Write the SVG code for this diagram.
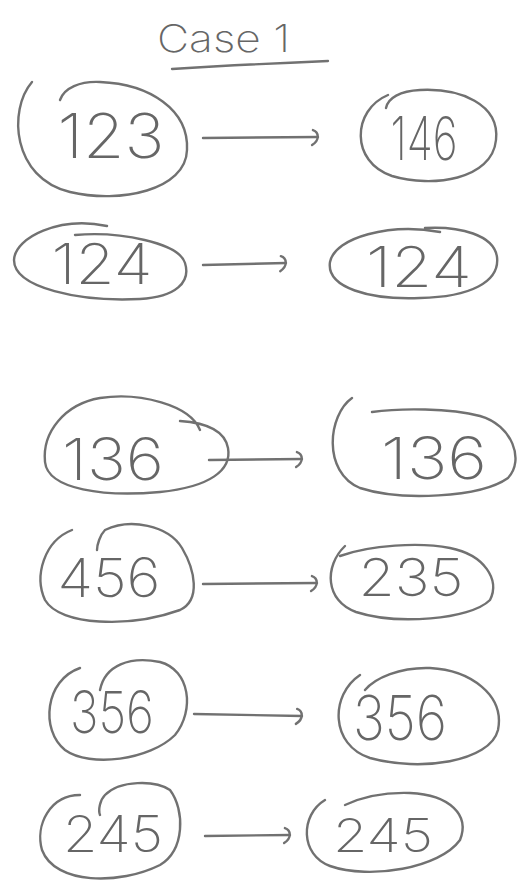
<svg xmlns="http://www.w3.org/2000/svg" width="520" height="894" viewBox="0 0 520 894">
<style>
.s{fill:none;stroke:#717171;stroke-width:2.4;stroke-linecap:round;stroke-linejoin:round}
.t{font-family:"Inter","Lato","Liberation Sans",sans-serif;font-weight:200;fill:#666666}
</style>
<defs>
<marker id="h" viewBox="-10 -10 14 20" markerWidth="14" markerHeight="20" refX="0" refY="0" orient="auto" markerUnits="userSpaceOnUse">
<path d="M-5,-7 C1,-5 2,3 -6,8" class="s"/>
</marker>
</defs>
<rect width="520" height="894" fill="#ffffff"/>
<g id="title">
<text class="t" x="157" y="52" font-size="38" textLength="133" lengthAdjust="spacingAndGlyphs">Case 1</text>
<path class="s" d="M172,69 C220,66 280,63 328,61"/>
</g>
<g id="connectors">
<path class="s" d="M203,138 L318,137" marker-end="url(#h)"/>
<path class="s" d="M203,265 L286,263" marker-end="url(#h)"/>
<path class="s" d="M209,460 L302,459" marker-end="url(#h)"/>
<path class="s" d="M203,584 L317,583" marker-end="url(#h)"/>
<path class="s" d="M194,714 L302,716" marker-end="url(#h)"/>
<path class="s" d="M205,836 L290,835" marker-end="url(#h)"/>
</g>
<g id="n123">
<path class="s" d="M32,82 C8,110 12,178 70,192 C120,204 186,190 187,150 C189,110 150,84 100,82 C80,81 64,88 60,100"/>
<text class="t" x="111" y="158" font-size="62" text-anchor="middle" textLength="107" lengthAdjust="spacingAndGlyphs">123</text>
</g>
<g id="n146">
<path class="s" d="M388,95 C352,110 350,162 392,176 C432,188 492,180 496,140 C500,104 460,88 420,90 C400,91 388,98 386,108"/>
<text class="t" x="424" y="160" font-size="60" text-anchor="middle" textLength="67" lengthAdjust="spacingAndGlyphs">146</text>
</g>
<g id="n124a">
<path class="s" d="M107,226 C60,216 15,237 14,260 C14,288 80,302 140,299 C176,297 191,282 185,263 C179,243 120,231 75,235"/>
<text class="t" x="102" y="284" font-size="56" text-anchor="middle" textLength="101" lengthAdjust="spacingAndGlyphs">124</text>
</g>
<g id="n124b">
<path class="s" d="M440,232 C390,223 335,237 330,262 C326,288 370,300 420,298 C470,297 500,282 497,257 C494,235 460,226 425,228"/>
<text class="t" x="419" y="287" font-size="56" text-anchor="middle" textLength="106" lengthAdjust="spacingAndGlyphs">124</text>
</g>
<g id="n136a">
<path class="s" d="M200,430 C190,405 140,392 100,398 C65,404 42,432 45,462 C48,490 105,497 160,492 C210,487 232,470 228,448 C225,432 210,423 180,421"/>
<text class="t" x="113" y="480" font-size="58" text-anchor="middle" textLength="102" lengthAdjust="spacingAndGlyphs">136</text>
</g>
<g id="n136b">
<path class="s" d="M352,398 C328,415 322,472 360,488 C400,501 480,498 508,478 C525,460 512,425 480,416 C450,408 400,408 372,412"/>
<text class="t" x="434" y="479" font-size="58" text-anchor="middle" textLength="106" lengthAdjust="spacingAndGlyphs">136</text>
</g>
<g id="n456">
<path class="s" d="M72,530 C44,541 34,576 45,600 C60,626 130,628 180,610 C201,600 195,570 182,548 C168,525 130,518 105,530 C100,535 97,545 97,550"/>
<text class="t" x="109" y="597" font-size="54" text-anchor="middle" textLength="103" lengthAdjust="spacingAndGlyphs">456</text>
</g>
<g id="n235">
<path class="s" d="M345,546 C324,566 325,601 356,612 C396,625 470,620 490,600 C500,580 485,555 450,548 C420,542 370,545 340,556"/>
<text class="t" x="411" y="596" font-size="52" text-anchor="middle" textLength="105" lengthAdjust="spacingAndGlyphs">235</text>
</g>
<g id="n356a">
<path class="s" d="M80,668 C45,680 40,730 65,750 C90,768 150,760 175,735 C195,710 190,670 160,662 C130,656 105,665 100,690"/>
<text class="t" x="112" y="733" font-size="58" text-anchor="middle" textLength="84" lengthAdjust="spacingAndGlyphs">356</text>
</g>
<g id="n356b">
<path class="s" d="M360,675 C330,695 330,745 370,758 C420,772 490,762 498,730 C505,695 470,670 430,668 C400,667 375,678 365,690"/>
<text class="t" x="400" y="740" font-size="62" text-anchor="middle" textLength="94" lengthAdjust="spacingAndGlyphs">356</text>
</g>
<g id="n245a">
<path class="s" d="M80,795 C50,795 35,825 42,850 C55,885 120,885 160,865 C185,850 185,810 170,790 C155,780 120,780 105,795 C100,800 98,810 100,815"/>
<text class="t" x="113" y="852" font-size="50" text-anchor="middle" textLength="100" lengthAdjust="spacingAndGlyphs">245</text>
</g>
<g id="n245b">
<path class="s" d="M325,800 C300,815 300,855 330,866 C370,880 440,868 460,840 C470,815 450,795 410,793 C380,792 360,798 345,805"/>
<text class="t" x="383" y="852" font-size="46" text-anchor="middle" textLength="100" lengthAdjust="spacingAndGlyphs">245</text>
</g>
</svg>
